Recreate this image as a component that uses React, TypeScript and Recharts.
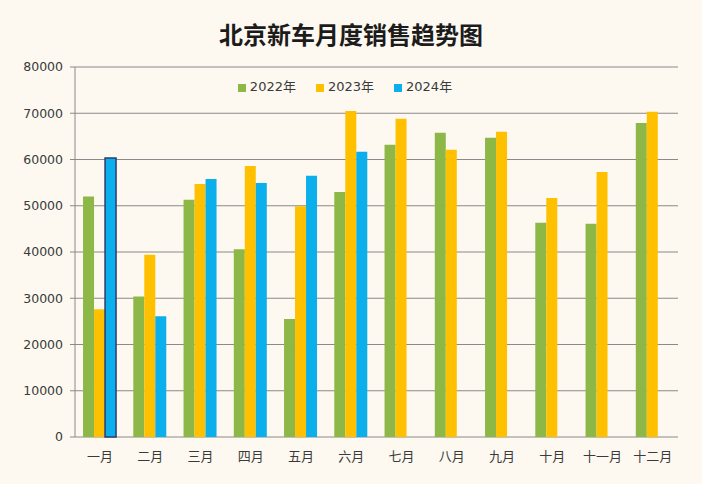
import React from 'react';
import { BarChart, Bar, XAxis, YAxis, CartesianGrid, Legend, Cell } from 'recharts';

const months = ['一月', '二月', '三月', '四月', '五月', '六月', '七月', '八月', '九月', '十月', '十一月', '十二月'];
const sales2022 = [52000, 30400, 51300, 40600, 25500, 53000, 63200, 65800, 64700, 46300, 46100, 67900];
const sales2023 = [27600, 39400, 54700, 58600, 49900, 70500, 68800, 62100, 66000, 51700, 57300, 70300];
const sales2024: (number | null)[] = [60300, 26100, 55800, 54900, 56500, 61700, null, null, null, null, null, null];
const yTicks = [0, 10000, 20000, 30000, 40000, 50000, 60000, 70000, 80000];
const boundaryTicks = [0, 1, 2, 3, 4, 5, 6, 7, 8, 9, 10, 11, 12];

const data = months.map((m, i) => ({
  month: m,
  idx: i + 0.5,
  y2022: sales2022[i],
  y2023: sales2023[i],
  y2024: sales2024[i],
}));

const FONT = '"DejaVu Sans", "Noto Sans CJK SC", sans-serif';
const CJK = '"Noto Sans CJK SC", sans-serif';
const GREEN = '#8DB847';
const YELLOW = '#FFC000';
const BLUE = '#0AAFEB';
const AXIS = '#8a8a8a';
const TEXT = '#3a3a3a';

export default function App() {
  return (
    <div
      style={{
        position: 'absolute',
        left: 0,
        top: 0,
        width: 702,
        height: 484,
        background: '#FDF9F0',
        fontFamily: FONT,
      }}
    >
      <div
        style={{
          position: 'absolute',
          left: 0,
          top: 18,
          width: 702,
          textAlign: 'center',
          fontSize: 24,
          fontWeight: 700,
          color: '#1c1c1c',
          lineHeight: '32px',
          fontFamily: CJK,
        }}
      >
        北京新车月度销售趋势图
      </div>
      <BarChart
        width={702}
        height={484}
        data={data}
        margin={{ top: 48, right: 24, left: 0, bottom: 17 }}
        barCategoryGap="16%"
        barGap={0}
        style={{ position: 'absolute', left: 0, top: 0 }}
      >
        <CartesianGrid xAxisId="cat" yAxisId="y" vertical={false} stroke={AXIS} strokeWidth={1} />
        <XAxis
          xAxisId="grid"
          dataKey="idx"
          type="number"
          domain={[0, 12]}
          ticks={boundaryTicks}
          interval={0}
          height={0}
          tick={() => <g />}
          tickLine={{ stroke: AXIS }}
          tickSize={5}
          axisLine={{ stroke: AXIS }}
        />
        <XAxis
          xAxisId="cat"
          dataKey="month"
          height={30}
          interval={0}
          axisLine={false}
          tickLine={false}
          tickSize={5}
          tickMargin={10}
          tick={{ fill: TEXT, fontSize: 13, fontFamily: CJK }}
        />
        <YAxis
          yAxisId="y"
          width={75}
          domain={[0, 80000]}
          ticks={yTicks}
          interval={0}
          axisLine={{ stroke: AXIS }}
          tickLine={{ stroke: AXIS }}
          tickSize={5}
          tickMargin={7}
          tick={{ fill: TEXT, fontSize: 12.5, fontFamily: FONT }}
        />
        <Legend
          verticalAlign="top"
          align="center"
          iconType="square"
          iconSize={8}
          wrapperStyle={{ top: 76, left: 16, fontSize: 13, fontFamily: FONT, color: TEXT }}
          formatter={(v) => <span style={{ color: TEXT, paddingRight: 10 }}>{v}</span>}
        />
        <Bar xAxisId="cat" yAxisId="y" dataKey="y2022" name="2022年" fill={GREEN} isAnimationActive={false} />
        <Bar xAxisId="cat" yAxisId="y" dataKey="y2023" name="2023年" fill={YELLOW} isAnimationActive={false} />
        <Bar xAxisId="cat" yAxisId="y" dataKey="y2024" name="2024年" fill={BLUE} isAnimationActive={false}>
          {data.map((d, i) => (
            <Cell key={d.month} stroke={i === 0 ? '#2F3C70' : 'none'} strokeWidth={i === 0 ? 1.5 : 0} />
          ))}
        </Bar>
      </BarChart>
    </div>
  );
}
